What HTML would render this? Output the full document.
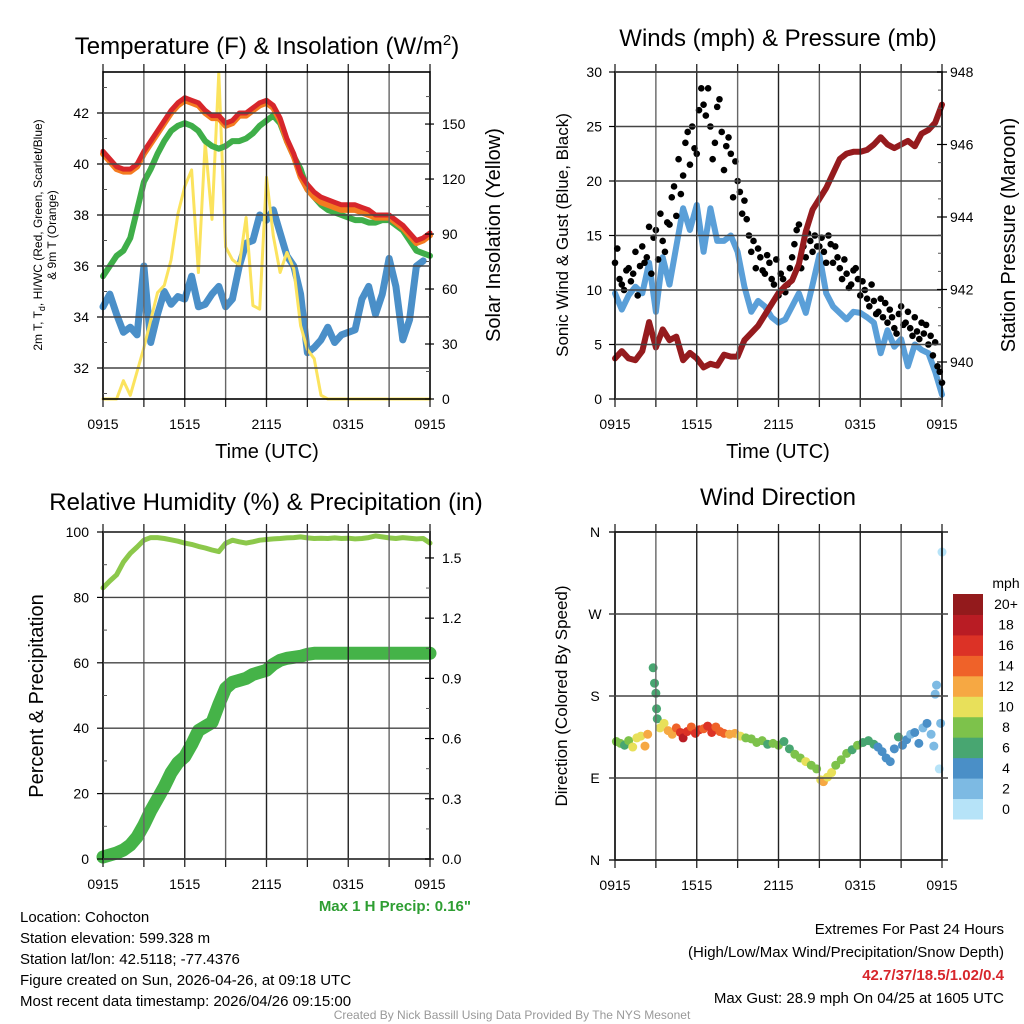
<!DOCTYPE html>
<html><head><meta charset="utf-8"><title>Mesonet Station Plots</title>
<style>
html,body{margin:0;padding:0;background:#fff;}
svg{display:block;font-family:"Liberation Sans",Arial,sans-serif;}
</style></head>
<body>
<svg id="fig" width="1024" height="1024" viewBox="0 0 1024 1024" xmlns="http://www.w3.org/2000/svg">
<rect x="0" y="0" width="1024" height="1024" fill="#fff"/>
<g id="layer-marks"></g>
<g id="layer-axes"></g>
<!-- Titles -->
<text x="267" y="54" font-size="24" text-anchor="middle">Temperature (F) &amp; Insolation (W/m<tspan dy="-9" font-size="15">2</tspan><tspan dy="9">)</tspan></text>
<text x="778" y="46" font-size="24" text-anchor="middle">Winds (mph) &amp; Pressure (mb)</text>
<text x="266" y="510" font-size="24" text-anchor="middle">Relative Humidity (%) &amp; Precipitation (in)</text>
<text x="778" y="505" font-size="24" text-anchor="middle">Wind Direction</text>
<!-- Axis titles -->
<text x="267" y="458" font-size="20" text-anchor="middle">Time (UTC)</text>
<text x="778" y="458" font-size="20" text-anchor="middle">Time (UTC)</text>
<text transform="translate(42,235) rotate(-90)" font-size="12" text-anchor="middle">2m T, T<tspan dy="3" font-size="9">d</tspan><tspan dy="-3">, HI/WC (Red, Green, Scarlet/Blue)</tspan></text>
<text transform="translate(56,235) rotate(-90)" font-size="12" text-anchor="middle">&amp; 9m T (Orange)</text>
<text transform="translate(500,235) rotate(-90)" font-size="20" text-anchor="middle">Solar Insolation (Yellow)</text>
<text transform="translate(568,235) rotate(-90)" font-size="17" text-anchor="middle">Sonic Wind &amp; Gust (Blue, Black)</text>
<text transform="translate(1015,235) rotate(-90)" font-size="20" text-anchor="middle">Station Pressure (Maroon)</text>
<text transform="translate(43,696) rotate(-90)" font-size="20" text-anchor="middle">Percent &amp; Precipitation</text>
<text transform="translate(567,696) rotate(-90)" font-size="17" text-anchor="middle">Direction (Colored By Speed)</text>
<text x="471" y="911" font-size="15" font-weight="bold" fill="#2e9e32" text-anchor="end">Max 1 H Precip: 0.16"</text>
<!-- Footer info -->
<g font-size="15" fill="#000">
<text x="20" y="922">Location: Cohocton</text>
<text x="20" y="943">Station elevation: 599.328 m</text>
<text x="20" y="964">Station lat/lon: 42.5118; -77.4376</text>
<text x="20" y="985">Figure created on Sun, 2026-04-26, at 09:18 UTC</text>
<text x="20" y="1006">Most recent data timestamp: 2026/04/26 09:15:00</text>
</g>
<g font-size="15" text-anchor="end">
<text x="1004" y="934">Extremes For Past 24 Hours</text>
<text x="1004" y="957">(High/Low/Max Wind/Precipitation/Snow Depth)</text>
<text x="1004" y="980" font-weight="bold" fill="#d7262b">42.7/37/18.5/1.02/0.4</text>
<text x="1004" y="1003">Max Gust: 28.9 mph On 04/25 at 1605 UTC</text>
</g>
<text x="512" y="1019" font-size="12" fill="#999" text-anchor="middle">Created By Nick Bassill Using Data Provided By The NYS Mesonet</text>
</svg>
<script>
// ---------- DATA ----------
const timeLabels = ["0915","1515","2115","0315","0915"];
const tempTicks = [32,34,36,38,40,42];
const solarTicks = [0,30,60,90,120,150];
const windTicks = [0,5,10,15,20,25,30];
const pressTicks = [940,942,944,946,948];
const pctTicks = [0,20,40,60,80,100];
const precipTicks = [0.0,0.3,0.6,0.9,1.2,1.5];
const dirTickLabels = ["N","E","S","W","N"];
const dirTickValues = [0,90,180,270,360];
const speedBinLabels = ["0","2","4","6","8","10","12","14","16","18","20+"];

// half-hourly series (t = 0, 0.5, ..., 24 h)
const tempRed = [40.5,40.2,39.9,39.8,39.8,40.0,40.5,40.9,41.3,41.7,42.1,42.4,42.6,42.5,42.4,42.1,41.9,41.9,41.6,41.7,42.0,42.0,42.2,42.4,42.5,42.3,41.8,41.0,40.4,39.6,39.2,38.9,38.7,38.6,38.5,38.4,38.4,38.4,38.3,38.2,38.0,38.0,38.0,37.8,37.6,37.3,37.0,37.1,37.3];
const tempOrange = [40.4,40.1,39.8,39.7,39.7,39.9,40.4,40.8,41.2,41.6,42.0,42.3,42.5,42.4,42.3,42.0,41.8,41.8,41.5,41.6,41.9,41.9,42.1,42.3,42.4,42.2,41.7,40.9,40.3,39.5,39.0,38.7,38.5,38.4,38.3,38.2,38.2,38.2,38.1,38.0,37.9,37.9,37.9,37.7,37.5,37.2,36.9,37.0,37.2];
const dewGreen = [35.6,36.0,36.4,36.6,37.1,38.2,39.3,39.8,40.4,40.9,41.3,41.5,41.6,41.5,41.3,40.9,40.7,40.6,40.7,40.9,40.9,41.0,41.2,41.5,41.7,41.9,41.6,40.9,40.3,39.8,39.0,38.7,38.4,38.2,38.1,38.0,37.9,37.8,37.8,37.7,37.7,37.8,37.8,37.6,37.4,37.0,36.6,36.5,36.4];
const hiwcBlue = [34.4,34.9,34.1,33.4,33.6,33.3,36.0,33.0,34.1,35.0,34.5,34.8,34.7,35.6,34.4,34.5,34.9,35.2,34.4,34.7,36.0,36.9,37.0,38.0,37.8,38.2,37.3,36.4,36.0,34.9,32.6,32.8,33.1,33.6,33.0,33.3,33.4,33.5,34.7,35.2,34.1,34.9,36.3,35.2,33.1,33.9,36.0,36.2];
const solar = [0,0,0,10,2,15,28,43,58,62,76,101,116,125,69,140,98,178,83,76,73,99,51,49,121,89,69,80,71,40,27,22,2,0,0,0,0,0,0,0,0,0,0,0,0,0,0,0,0];
const windSpeed = [9.7,8.2,9.5,10.3,9.7,12.5,8.0,13.0,10.5,14.0,17.5,15.5,17.8,13.5,17.5,14.5,14.5,15.0,13.5,10.3,8.0,9.0,8.5,7.5,7.0,7.3,8.5,9.7,7.9,10.5,13.2,9.7,8.5,7.9,7.3,8.0,7.9,7.5,7.0,4.2,6.3,4.8,5.5,3.0,5.0,4.5,4.2,2.5,0.4];
const pressure = [940.1,940.3,940.1,940.05,940.3,941.1,940.4,940.9,940.6,940.7,940.05,940.25,940.1,939.85,939.95,939.9,940.2,940.15,940.15,940.6,940.8,941.0,941.3,941.6,941.9,942.1,942.25,942.7,943.6,944.2,944.5,944.8,945.2,945.6,945.75,945.8,945.8,945.85,946.0,946.2,946.0,945.9,946.0,946.1,945.95,946.3,946.4,946.6,947.1];
const relHum = [82.9,85.0,86.9,90.8,93.5,95.4,97.5,98.3,98.3,98.0,97.6,97.2,96.6,96.2,95.6,95.1,94.5,94.0,96.5,97.5,97.0,96.6,97.0,97.5,97.7,97.9,98.0,98.2,98.3,98.5,98.2,98.0,98.1,98.0,98.2,98.0,98.1,97.9,98.0,98.3,98.8,98.5,98.2,98.0,98.3,98.1,97.9,98.0,96.6];
const precip = [0.01,0.02,0.03,0.045,0.07,0.11,0.17,0.24,0.30,0.36,0.43,0.48,0.51,0.57,0.64,0.66,0.68,0.77,0.85,0.88,0.89,0.90,0.92,0.93,0.94,0.97,0.99,1.00,1.005,1.01,1.02,1.025,1.025,1.025,1.025,1.025,1.025,1.025,1.025,1.025,1.025,1.025,1.025,1.025,1.025,1.025,1.025,1.025,1.025];
// gusts every 10 min
const gusts = [12.5,13.8,11.0,10.5,10.0,11.8,12.0,10.8,11.5,13.5,9.5,12.2,
14.0,12.5,13.0,15.8,11.5,14.8,
15.5,12.8,17.0,14.5,13.5,16.2,
16.0,18.5,19.5,16.8,22.0,18.8,
20.5,23.5,24.5,21.5,25.0,23.0,
22.5,26.5,28.5,27.0,26.0,28.5,
25.0,22.0,23.5,26.8,27.5,24.5,
21.0,23.2,24.0,22.5,18.5,21.8,
20.0,19.0,17.0,18.2,16.5,15.0,
13.5,14.5,12.0,13.8,13.0,11.8,
11.5,13.2,12.5,11.0,10.5,12.8,
9.5,11.5,11.0,9.8,10.5,12.0,
13.0,14.2,15.5,16.0,12.0,14.0,
13.0,15.2,14.5,13.5,15.0,14.0,
14.0,14.8,13.5,12.5,15.0,14.2,
12.5,14.0,13.0,12.0,11.0,12.8,
11.5,10.2,10.5,11.8,12.0,11.0,
9.5,10.8,10.0,9.2,8.5,10.5,
9.0,7.8,8.0,9.2,7.5,8.8,
7.0,8.2,7.5,6.5,6.0,7.8,
8.5,6.8,7.0,8.0,6.5,5.8,
7.5,6.2,5.5,7.0,6.0,6.8,
5.0,5.8,4.0,5.2,3.0,2.5,1.5];
// wind direction scatter
const wdTime = [0.1,0.4,0.7,1.0,1.3,1.6,1.9,2.2,2.4,2.8,2.9,3.0,3.05,3.1,3.3,3.6,3.9,4.2,4.5,4.8,5.0,5.3,5.6,5.9,6.2,6.5,6.8,7.1,7.4,7.7,8.0,8.4,8.8,9.2,9.6,10.0,10.4,10.8,11.2,11.6,12.0,12.4,12.8,13.2,13.6,14.0,14.4,14.8,15.1,15.3,15.6,15.9,16.2,16.6,17.0,17.4,17.8,18.2,18.6,19.0,19.3,19.6,19.9,20.2,20.5,20.8,21.1,21.4,21.7,22.0,22.3,22.6,22.9,23.2,23.4,23.5,23.6,23.8,23.9,24.0];
const wdDir = [130,128,126,131,124,134,136,125,138,211,194,183,166,155,145,150,142,138,145,140,134,141,146,139,143,144,147,140,146,141,139,138,139,136,134,133,129,131,127,128,126,130,122,116,112,108,104,100,88,86,91,96,104,110,117,121,126,129,131,127,124,119,112,108,122,135,126,132,138,140,128,145,150,138,125,182,192,100,150,338];
const wdSpd = [8.5,9.5,7.5,8.5,10.5,10.8,10.2,12.5,12.5,6.5,6.5,6.5,6.5,6.5,10.5,11.5,12.5,13.5,14.5,16.5,18.5,17.5,15.5,16.5,17.5,14.5,16.5,17.5,15.5,14.5,14.5,13.5,12.5,10.5,8.5,9.5,8.5,8.5,7.5,8.5,8.5,6.5,7.5,8.5,9.5,10.5,8.5,9.5,11.5,12.5,11.5,10.5,9.5,8.5,8.5,7.5,8.5,7.5,6.5,6.5,5.5,4.5,5.5,4.5,4.5,6.5,4.5,5.5,3.5,4.5,4.5,3.5,4.5,3.5,2.5,2.5,2.5,1.5,2.5,0.5];
const speedColors = ["#b6e3f8","#7dbae3","#4a8fc7","#48a671","#7dc24b","#e8e05a","#f6a843","#ef6229","#dc3226","#b91c24","#931a1c"];

// ---------- SCALES ----------
const NS="http://www.w3.org/2000/svg";
const marks=document.getElementById('layer-marks');
const axes=document.getElementById('layer-axes');
const P1={x0:103,x1:430,y0:72,y1:399};
const P2={x0:615,x1:942,y0:72,y1:399};
const P3={x0:103,x1:430,y0:532,y1:859};
const P4={x0:615,x1:942,y0:532,y1:860};
function xT(p,t){return p.x0+t/24*(p.x1-p.x0);}
const yTemp=v=>113+(42-v)*25.5;
const ySolar=v=>399-v*1.833;
const yWind=v=>399-v*10.9;
const yPress=v=>362-(v-940)*36.25;
const yPct=v=>859-v*3.27;
const yPrecip=v=>859-v*200.7;
const yDir=v=>860-v/360*328;

function el(tag,parent){const e=document.createElementNS(NS,tag);parent.appendChild(e);return e;}
function series(p,arr,step,yf,color,w,name){
  let d="";
  arr.forEach((v,i)=>{d+=(i?"L":"M")+xT(p,i*step).toFixed(1)+","+yf(v).toFixed(1);});
  const e=el('path',marks);
  e.setAttribute('d',d);e.setAttribute('fill','none');e.setAttribute('stroke',color);
  e.setAttribute('stroke-width',w);e.setAttribute('stroke-linejoin','round');e.setAttribute('stroke-linecap','round');
  
  
}

// ---------- MARKS ----------
series(P1,hiwcBlue,0.5,yTemp,"#4a8fc8",7,"heat-index-wind-chill-line");
series(P1,solar,0.5,ySolar,"#fbe35e",3,"solar-insolation-line");
series(P1,dewGreen,0.5,yTemp,"#3fae49",6,"dewpoint-line");
series(P1,tempOrange,0.5,yTemp,"#f47b20",6,"temperature-9m-line");
series(P1,tempRed,0.5,yTemp,"#d7262b",5,"temperature-2m-line");

series(P2,windSpeed,0.5,yWind,"#5a9fd8",6,"sonic-wind-line");
gusts.forEach((v,i)=>{
  const c=el('circle',marks);
  c.setAttribute('cx',xT(P2,i/6));c.setAttribute('cy',yWind(v));c.setAttribute('r',3.3);c.setAttribute('fill','#000');
  
  
});
series(P2,pressure,0.5,yPress,"#951b1e",6,"station-pressure-line");

series(P3,relHum,0.5,yPct,"#8cc84b",5,"relative-humidity-line");
series(P3,precip,0.5,yPrecip,"#45b348",13,"precipitation-line");

wdTime.forEach((t,i)=>{
  const b=Math.min(10,Math.floor(wdSpd[i]/2));
  const c=el('circle',marks);
  c.setAttribute('cx',xT(P4,t));c.setAttribute('cy',yDir(wdDir[i]));c.setAttribute('r',4.5);c.setAttribute('fill',speedColors[b]);
  
  
});

// ---------- AXES ----------
function line(x1,y1,x2,y2,col,w,name){
  const l=el('line',axes);
  l.setAttribute('x1',x1);l.setAttribute('y1',y1);l.setAttribute('x2',x2);l.setAttribute('y2',y2);
  l.setAttribute('stroke',col);l.setAttribute('stroke-width',w);
  
  
}
function txt(x,y,s,anchor,size,name){
  const t=el('text',axes);
  t.setAttribute('x',x);t.setAttribute('y',y);t.setAttribute('text-anchor',anchor);t.setAttribute('font-size',size);
  t.textContent=s;
  
  
}
function frame(p,pre){
  for(let k=1;k<8;k++){const x=xT(p,k*3);line(x,p.y0,x,p.y1,k%2?"#666":"#222",1.4,pre+"-vertical-gridline");}
  for(let k=0;k<=8;k++){const x=xT(p,k*3);line(x,p.y1,x,p.y1+8,"#222",1.3,pre+"-x-tick");line(x,p.y0-8,x,p.y0,"#222",1.3,pre+"-top-tick");}
  timeLabels.forEach((s,i)=>txt(xT(p,i*6),p.y1+30,s,"middle",14,pre+"-x-tick-label"));
  const r=el('rect',axes);
  r.setAttribute('x',p.x0);r.setAttribute('y',p.y0);r.setAttribute('width',p.x1-p.x0);r.setAttribute('height',p.y1-p.y0);
  r.setAttribute('fill','none');r.setAttribute('stroke','#000');r.setAttribute('stroke-width',1.6);
  
  
}
// Panel 1
frame(P1,"temperature");
tempTicks.forEach(v=>{const y=yTemp(v);line(P1.x0,y,P1.x1,y,"#444",1.4,"temperature-horizontal-gridline");line(P1.x0-6,y,P1.x0,y,"#000",1.2,"temperature-y-tick");txt(P1.x0-14,y+5,String(v),"end",14,"temperature-y-tick-label");});
[31,33,35,37,39,41,43].forEach(v=>line(P1.x0,yTemp(v),P1.x0+4,yTemp(v),"#555",1,"temperature-minor-tick"));
solarTicks.forEach(v=>{const y=ySolar(v);line(P1.x1-5,y,P1.x1+4,y,"#000",1.2,"solar-y-tick");txt(P1.x1+12,y+5,String(v),"start",14,"solar-y-tick-label");});
for(let v=15;v<180;v+=30)line(P1.x1-4,ySolar(v),P1.x1,ySolar(v),"#555",1,"solar-minor-tick");
// Panel 2
frame(P2,"winds");
windTicks.forEach(v=>{const y=yWind(v);line(P2.x0,y,P2.x1,y,"#444",1.4,"wind-horizontal-gridline");line(P2.x0-6,y,P2.x0,y,"#000",1.2,"wind-y-tick");txt(P2.x0-13,y+5,String(v),"end",14,"wind-y-tick-label");});
pressTicks.forEach(v=>{const y=yPress(v);line(P2.x1-5,y,P2.x1+5,y,"#000",1.2,"pressure-y-tick");txt(P2.x1+8,y+5,String(v),"start",14,"pressure-y-tick-label");});
for(let v=939;v<948;v+=0.5){if(v%2)line(P2.x1-4,yPress(v),P2.x1,yPress(v),"#555",1,"pressure-minor-tick");}
// Panel 3
frame(P3,"humidity");
pctTicks.forEach(v=>{const y=yPct(v);line(P3.x0,y,P3.x1,y,"#444",1.4,"humidity-horizontal-gridline");line(P3.x0-6,y,P3.x0,y,"#000",1.2,"humidity-y-tick");txt(P3.x0-14,y+5,String(v),"end",14,"humidity-y-tick-label");});
[10,30,50,70,90].forEach(v=>line(P3.x0,yPct(v),P3.x0+4,yPct(v),"#555",1,"humidity-minor-tick"));
precipTicks.forEach(v=>{const y=yPrecip(v);line(P3.x1-5,y,P3.x1+4,y,"#000",1.2,"precip-y-tick");txt(P3.x1+12,y+5,v.toFixed(1),"start",14,"precip-y-tick-label");});
for(let v=0.15;v<1.6;v+=0.3)line(P3.x1-4,yPrecip(v),P3.x1,yPrecip(v),"#555",1,"precip-minor-tick");
// Panel 4
frame(P4,"direction");
dirTickValues.forEach((v,i)=>{const y=yDir(v);line(P4.x0-6,y,P4.x1+6,y,i%4?"#444":"#222",1.4,"direction-horizontal-gridline");txt(P4.x0-20,y+5,dirTickLabels[i],"middle",14,"direction-y-tick-label");});
// Colorbar
txt(1006,588,"mph","middle",14,"colorbar-title");
speedColors.forEach((c,i)=>{
  const h=225/11, y=594+(10-i)*h;
  const r=el('rect',axes);
  r.setAttribute('x',953);r.setAttribute('y',y);r.setAttribute('width',30);r.setAttribute('height',h+0.5);r.setAttribute('fill',c);
  
  
  txt(1006,y+h/2+5,speedBinLabels[i],"middle",14,"colorbar-label");
});
</script>
</body></html>
